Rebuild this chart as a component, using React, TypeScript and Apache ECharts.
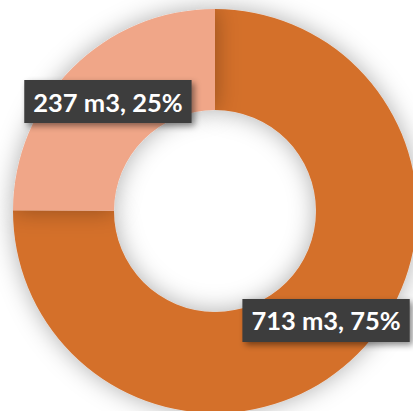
import React, { useEffect, useRef } from "react";
import * as echarts from "echarts";

const categories = ["A", "B"];
const values = [713, 237];
const colors = ["#D4702C", "#F0A688"];
const unit = "m3";

export default function App() {
  const ref = useRef<HTMLDivElement>(null);
  useEffect(() => {
    if (!ref.current) return;
    const chart = echarts.init(ref.current, undefined, { renderer: "svg" });
    const total = values.reduce((a, b) => a + b, 0);
    chart.setOption({
      animation: false,
      backgroundColor: "#ffffff",
      series: [
        {
          type: "pie",
          center: [215, 211],
          radius: [101, 202],
          startAngle: 90,
          clockwise: true,
          silent: true,
          itemStyle: {
            shadowBlur: 24,
            shadowColor: "rgba(0,0,0,0.32)",
          },
          label: {
            show: true,
            position: "inside",
            formatter: (p: any) =>
              `${p.value} ${unit}, ${Math.round((p.value / total) * 100)}%`,
            color: "#ffffff",
            fontFamily: "Lato",
            fontWeight: "bold",
            fontSize: 25.5,
            backgroundColor: "#3D3D3D",
            padding: [9, 9, 8, 9],
            shadowBlur: 6,
            shadowColor: "rgba(0,0,0,0.45)",
            shadowOffsetX: 3,
            shadowOffsetY: 3,
            offset: [2, 0],
          },
          labelLine: { show: false },
          data: categories.map((c, i) => ({
            name: c,
            value: values[i],
            itemStyle: { color: colors[i] },
          })),
        },
      ],
    });
    return () => chart.dispose();
  }, []);
  return (
    <div
      ref={ref}
      style={{ position: "absolute", left: 0, top: 0, width: 413, height: 411 }}
    />
  );
}
